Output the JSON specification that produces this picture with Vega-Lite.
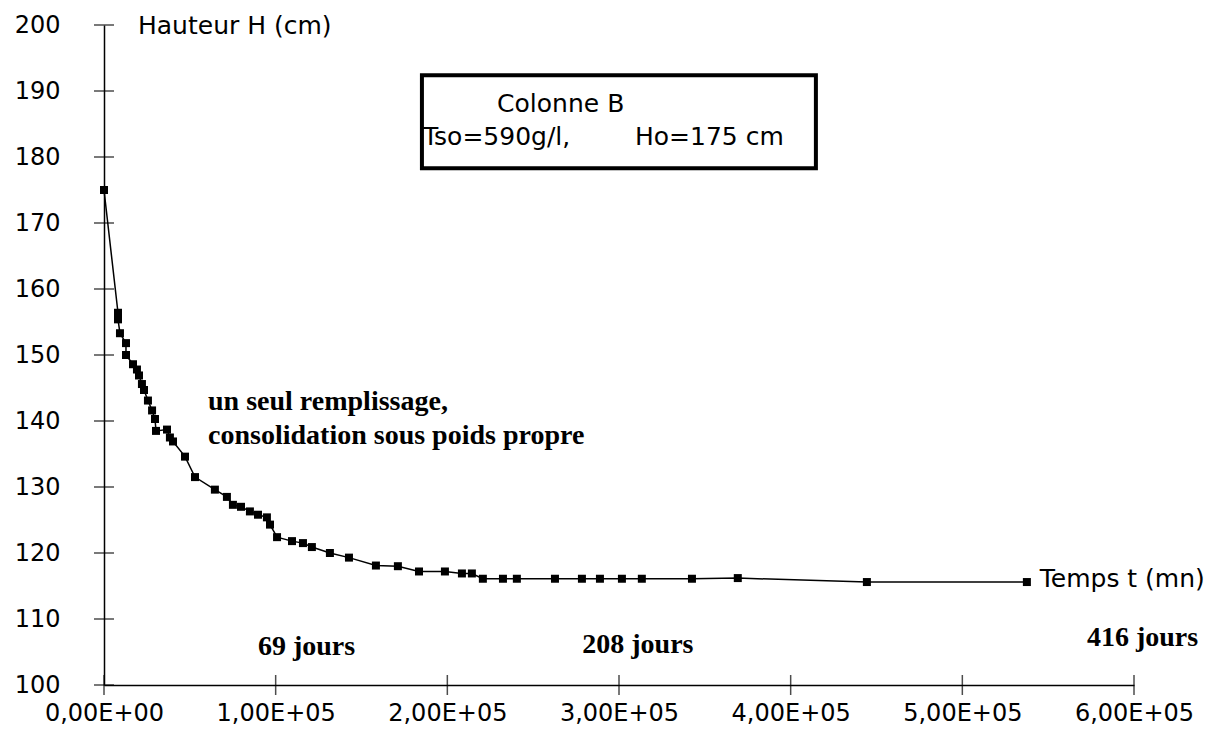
{
  "$schema": "https://vega.github.io/schema/vega-lite/v6.json",
  "width": 1030,
  "height": 660,
  "autosize": {"type": "none"},
  "padding": {"left": 104, "top": 25, "right": 93, "bottom": 48},
  "background": "white",
  "config": {"view": {"stroke": null}},
  "datasets": {
    "mesures": [
      {"t": 0, "H": 175},
      {"t": 8150, "H": 156.4},
      {"t": 8150, "H": 155.4},
      {"t": 9300, "H": 153.3},
      {"t": 12800, "H": 151.8},
      {"t": 12800, "H": 150.0},
      {"t": 16900, "H": 148.6},
      {"t": 19200, "H": 147.8},
      {"t": 20400, "H": 146.9},
      {"t": 22100, "H": 145.6},
      {"t": 23300, "H": 144.7},
      {"t": 25600, "H": 143.1},
      {"t": 28000, "H": 141.6},
      {"t": 29700, "H": 140.3},
      {"t": 30300, "H": 138.5},
      {"t": 36700, "H": 138.7},
      {"t": 38400, "H": 137.5},
      {"t": 40200, "H": 136.9},
      {"t": 47200, "H": 134.6},
      {"t": 53000, "H": 131.5},
      {"t": 64600, "H": 129.6},
      {"t": 71600, "H": 128.5},
      {"t": 75100, "H": 127.3},
      {"t": 79800, "H": 127.0},
      {"t": 85000, "H": 126.3},
      {"t": 89700, "H": 125.8},
      {"t": 94900, "H": 125.4},
      {"t": 96700, "H": 124.3},
      {"t": 100800, "H": 122.4},
      {"t": 109500, "H": 121.8},
      {"t": 115900, "H": 121.5},
      {"t": 121100, "H": 120.9},
      {"t": 131600, "H": 120.0},
      {"t": 142700, "H": 119.3},
      {"t": 158400, "H": 118.1},
      {"t": 171200, "H": 118.0},
      {"t": 183500, "H": 117.2},
      {"t": 198600, "H": 117.2},
      {"t": 208500, "H": 116.9},
      {"t": 214300, "H": 116.9},
      {"t": 220700, "H": 116.1},
      {"t": 232400, "H": 116.1},
      {"t": 240500, "H": 116.1},
      {"t": 262700, "H": 116.1},
      {"t": 278400, "H": 116.1},
      {"t": 288900, "H": 116.1},
      {"t": 301700, "H": 116.1},
      {"t": 313300, "H": 116.1},
      {"t": 342500, "H": 116.1},
      {"t": 369200, "H": 116.2},
      {"t": 444400, "H": 115.6},
      {"t": 537600, "H": 115.6}
    ],
    "yticks": [
      {"v": 100}, {"v": 110}, {"v": 120}, {"v": 130}, {"v": 140}, {"v": 150},
      {"v": 160}, {"v": 170}, {"v": 180}, {"v": 190}, {"v": 200}
    ],
    "xticks": [
      {"v": 0}, {"v": 100000}, {"v": 200000}, {"v": 300000}, {"v": 400000}, {"v": 500000}, {"v": 600000}
    ]
  },
  "layer": [
    {
      "data": {"name": "mesures"},
      "mark": {"type": "line", "color": "black", "strokeWidth": 1.5, "clip": false},
      "encoding": {
        "x": {
          "field": "t", "type": "quantitative",
          "scale": {"domain": [0, 600000], "nice": false, "zero": false},
          "axis": {
            "values": [0, 100000, 200000, 300000, 400000, 500000, 600000],
            "labelExpr": "replace(format(datum.value / 100000, '.2f'), '.', ',') + (datum.value == 0 ? 'E+00' : 'E+05')",
            "title": null, "grid": false, "ticks": false,
            "domainColor": "black", "domainWidth": 1.5,
            "labelFont": "DejaVu Sans", "labelFontSize": 24, "labelColor": "black",
            "labelPadding": 16, "labelFlush": false, "labelOverlap": false
          }
        },
        "y": {
          "field": "H", "type": "quantitative",
          "scale": {"domain": [100, 200], "nice": false, "zero": false},
          "axis": {
            "values": [100, 110, 120, 130, 140, 150, 160, 170, 180, 190, 200],
            "title": null, "grid": false, "ticks": false,
            "domainColor": "black", "domainWidth": 1.5,
            "labelFont": "DejaVu Sans", "labelFontSize": 24, "labelColor": "black",
            "labelPadding": 44, "labelFlush": false, "labelOverlap": false
          }
        }
      }
    },
    {
      "data": {"name": "mesures"},
      "mark": {"type": "point", "shape": "square", "filled": true, "color": "black", "size": 64, "opacity": 1},
      "encoding": {
        "x": {"field": "t", "type": "quantitative"},
        "y": {"field": "H", "type": "quantitative"}
      }
    },
    {
      "data": {"name": "yticks"},
      "mark": {"type": "tick", "orient": "horizontal", "color": "black", "size": 20, "thickness": 1.5},
      "encoding": {
        "x": {"datum": 0, "type": "quantitative"},
        "y": {"field": "v", "type": "quantitative"}
      }
    },
    {
      "data": {"name": "xticks"},
      "mark": {"type": "tick", "orient": "vertical", "color": "black", "size": 20, "thickness": 1.5},
      "encoding": {
        "x": {"field": "v", "type": "quantitative"},
        "y": {"datum": 100, "type": "quantitative"}
      }
    },
    {
      "data": {"values": [{}]},
      "mark": {"type": "rect", "fill": "white", "stroke": "black", "strokeWidth": 4},
      "encoding": {
        "x": {"datum": 185200, "type": "quantitative"},
        "x2": {"datum": 414700},
        "y": {"datum": 192.4, "type": "quantitative"},
        "y2": {"datum": 178.3}
      }
    },
    {
      "data": {"values": [
        {"t": 19800, "H": 198.7, "label": "Hauteur H (cm)"},
        {"t": 229000, "H": 186.8, "label": "Colonne B"},
        {"t": 185800, "H": 181.8, "label": "Tso=590g/l,"},
        {"t": 309300, "H": 181.8, "label": "Ho=175 cm"},
        {"t": 545100, "H": 114.9, "label": "Temps t (mn)"}
      ]},
      "mark": {"type": "text", "align": "left", "baseline": "alphabetic", "font": "DejaVu Sans", "fontSize": 25, "color": "black", "clip": false},
      "encoding": {
        "x": {"field": "t", "type": "quantitative"},
        "y": {"field": "H", "type": "quantitative"},
        "text": {"field": "label"}
      }
    },
    {
      "data": {"values": [
        {"t": 60600, "H": 141.6, "label": "un seul remplissage,"},
        {"t": 60600, "H": 136.5, "label": "consolidation sous poids propre"}
      ]},
      "mark": {"type": "text", "align": "left", "baseline": "alphabetic", "font": "Liberation Serif", "fontWeight": "bold", "fontSize": 28, "color": "black"},
      "encoding": {
        "x": {"field": "t", "type": "quantitative"},
        "y": {"field": "H", "type": "quantitative"},
        "text": {"field": "label"}
      }
    },
    {
      "data": {"values": [
        {"t": 118000, "H": 104.5, "label": "69 jours"},
        {"t": 311000, "H": 104.8, "label": "208 jours"},
        {"t": 605000, "H": 105.9, "label": "416 jours"}
      ]},
      "mark": {"type": "text", "align": "center", "baseline": "alphabetic", "font": "Liberation Serif", "fontWeight": "bold", "fontSize": 28, "color": "black", "clip": false},
      "encoding": {
        "x": {"field": "t", "type": "quantitative"},
        "y": {"field": "H", "type": "quantitative"},
        "text": {"field": "label"}
      }
    }
  ]
}
